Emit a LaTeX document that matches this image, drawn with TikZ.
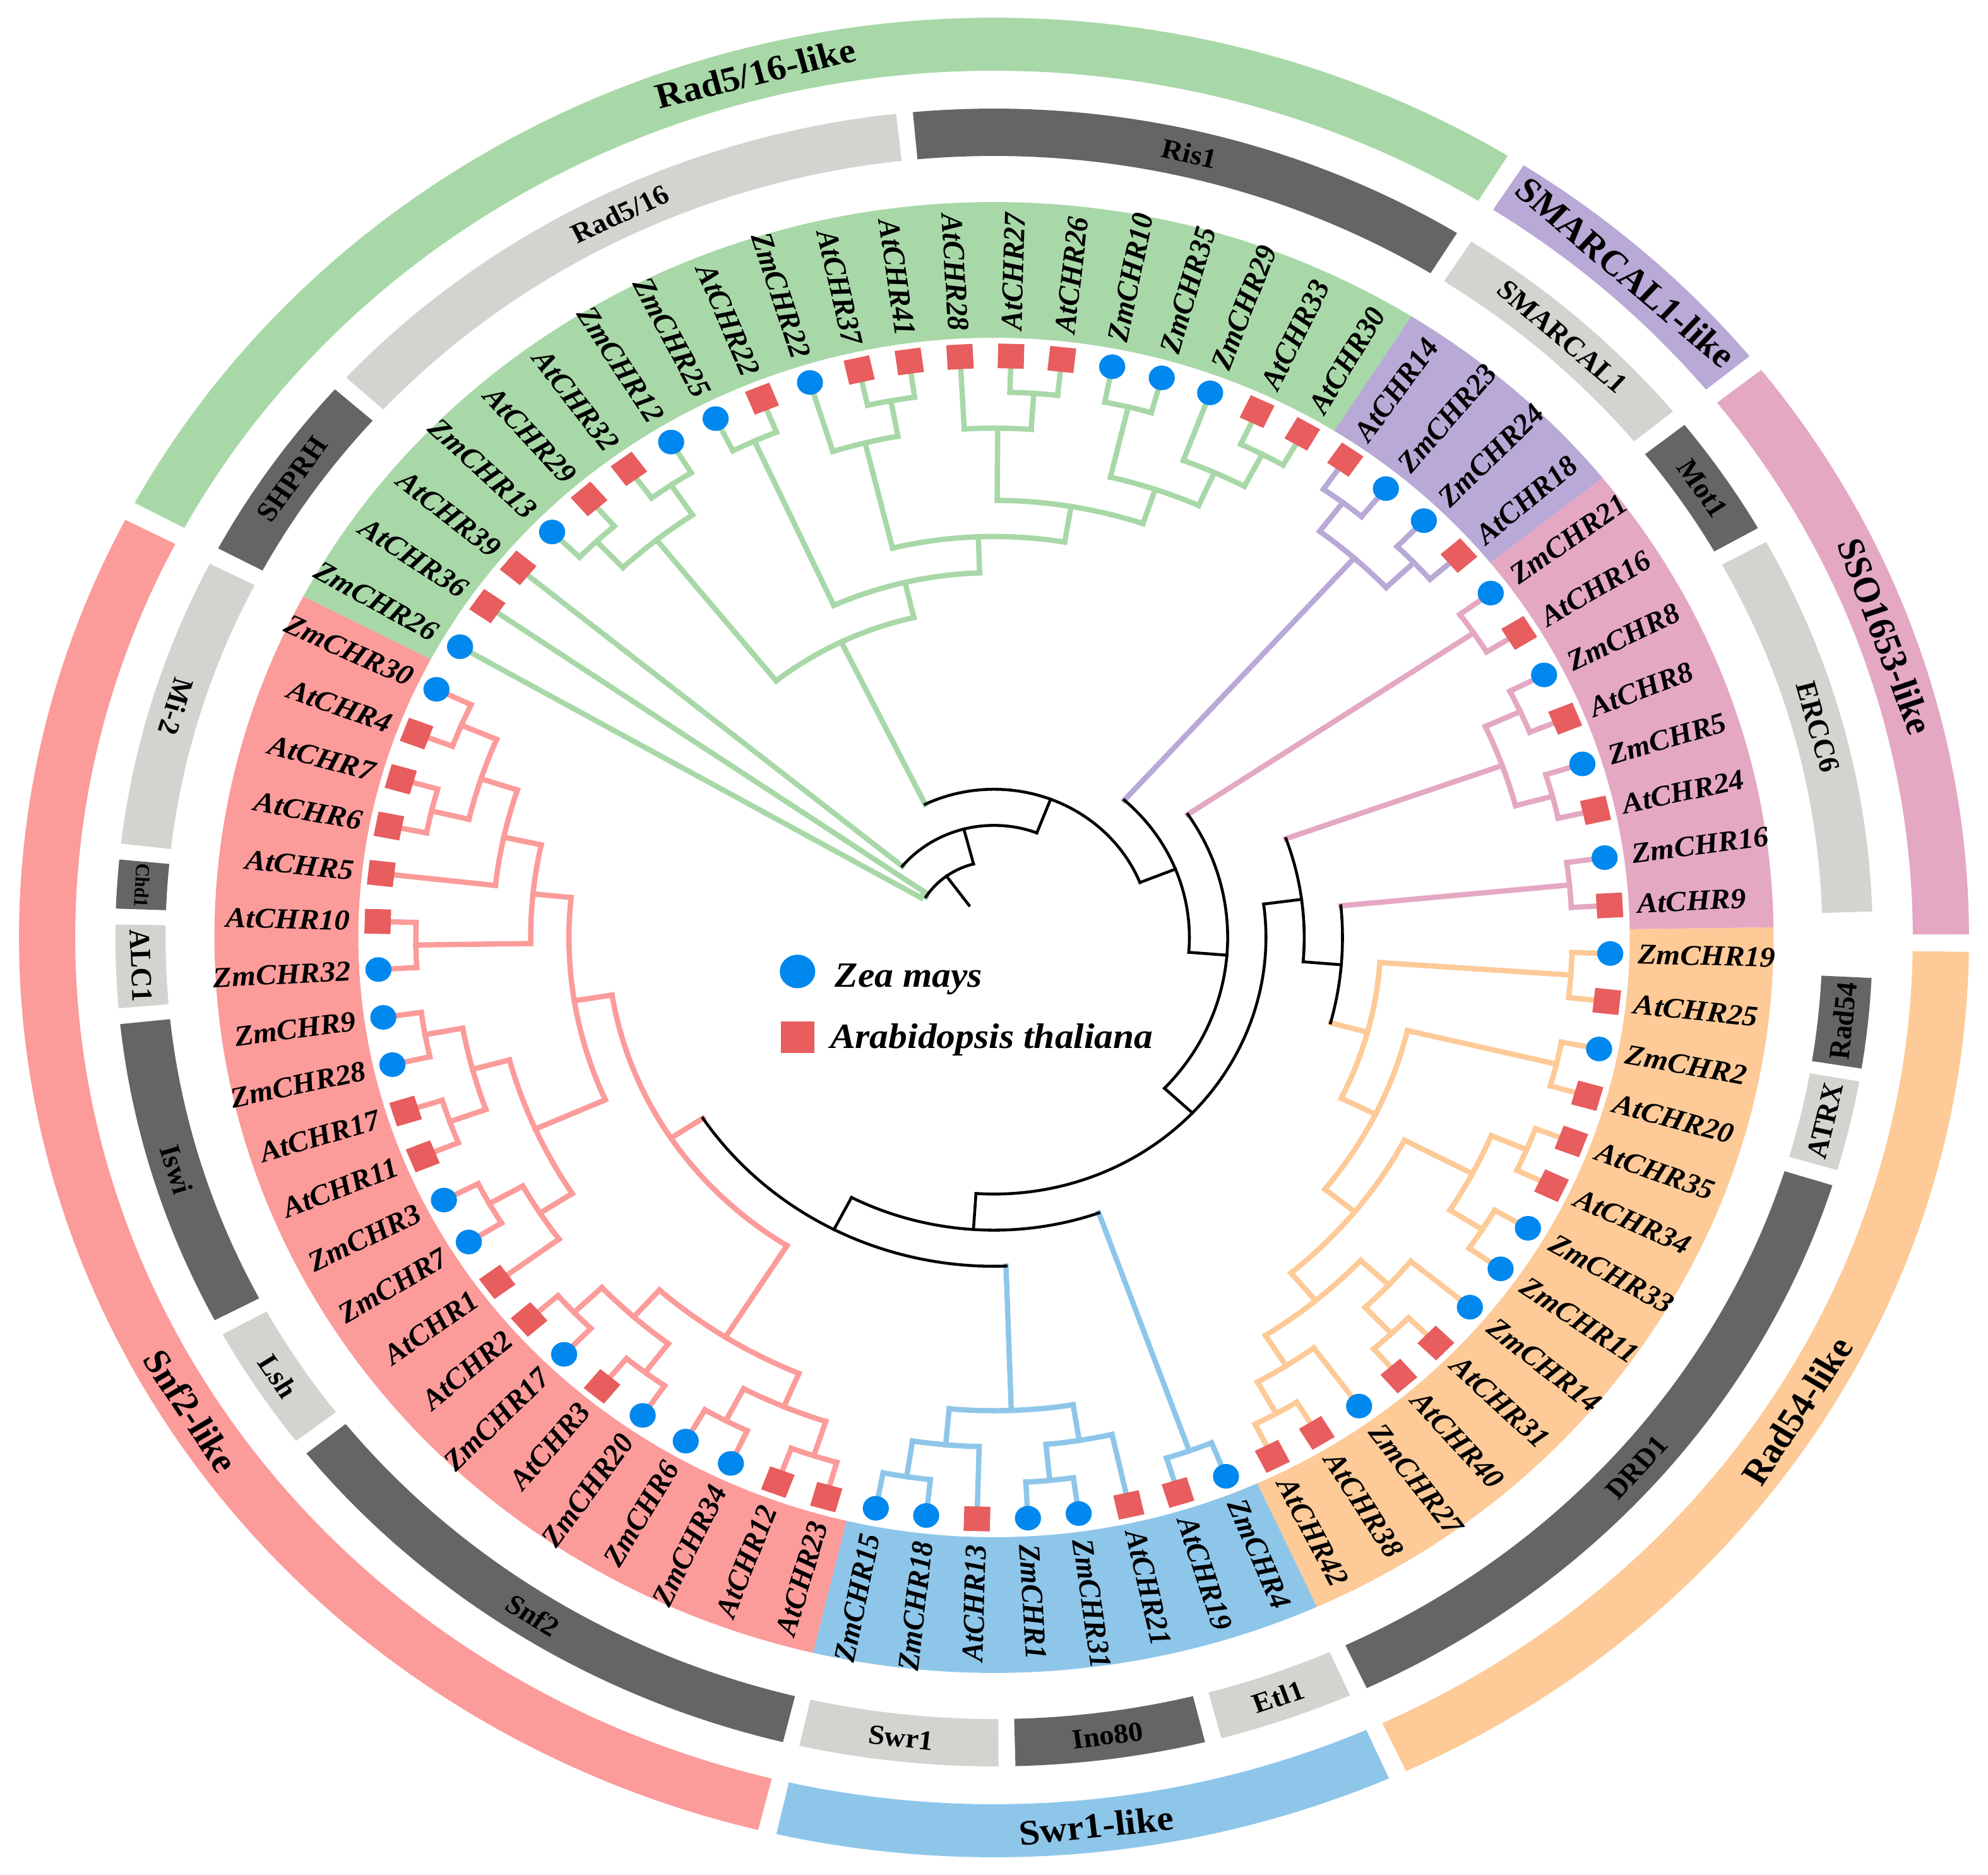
\documentclass[tikz,border=0pt]{standalone}
\usepackage{fontspec}
\setmainfont{Liberation Serif}
\definecolor{cRad}{HTML}{A8D8A8}
\definecolor{cSma}{HTML}{B8A9D7}
\definecolor{cSso}{HTML}{E4A8C3}
\definecolor{cR54}{HTML}{FDCA98}
\definecolor{cSwr}{HTML}{8EC6EA}
\definecolor{cSnf}{HTML}{FB9B9A}
\definecolor{zmblue}{HTML}{0088EE}
\definecolor{atred}{HTML}{E85D5E}
\definecolor{cLite}{HTML}{D3D3CF}
\definecolor{cDark}{HTML}{656565}
\tikzset{
  leaflab/.style={font=\fontsize{13}{15}\selectfont\bfseries\itshape, inner sep=0pt},
  zmdot/.style={circle, fill=zmblue, inner sep=0pt, minimum size=0.39cm},
  atbox/.style={rectangle, fill=atred, inner sep=0pt, minimum size=0.39cm},
  sublab/.style={font=\fontsize{12.5}{14}\selectfont\bfseries, inner sep=0pt},
  chdlab/.style={font=\fontsize{8.5}{10}\selectfont\bfseries, inner sep=0pt},
  famlab/.style={font=\fontsize{16}{18}\selectfont\bfseries, inner sep=0pt},
  legtxt/.style={font=\fontsize{16}{18}\selectfont\bfseries\itshape, inner sep=0pt}
}
\newcommand\branch[6]{%
  \pgfmathsetmacro\brA{\csname ang@#3\endcsname}%
  \pgfmathsetmacro\brB{\csname ang@#4\endcsname}%
  \pgfmathsetmacro\brM{(\brA+\brB)/2}%
  \pgfmathsetmacro\brR{9.212-0.572*#2}%
  \expandafter\xdef\csname ang@#1\endcsname{\brM}%
  \expandafter\xdef\csname col@#1\endcsname{#5}%
  \expandafter\xdef\csname wid@#1\endcsname{#6}%
  \edef\brCa{\csname col@#3\endcsname}\edef\brWa{\csname wid@#3\endcsname}%
  \edef\brCb{\csname col@#4\endcsname}\edef\brWb{\csname wid@#4\endcsname}%
  \coordinate (#1) at (\brM:\brR);
  \draw[draw=\brCa, line width=\brWa, line cap=rect] (#3) -- (\brA:\brR);
  \draw[draw=\brCb, line width=\brWb, line cap=rect] (#4) -- (\brB:\brR);
  \draw[draw=#5, line width=#6, line cap=rect] (\brA:\brR) arc[start angle=\brA, end angle=\brB, radius=\brR];
}
\newcommand\clade[5]{\branch{#1}{#2}{#3}{#4}{#5}{2.4pt}}
\newcommand\spine[4]{\branch{#1}{#2}{#3}{#4}{black}{1.3pt}}
\newcommand\band[3]{\fill[#3] (#1:9.5) arc[start angle=#1, end angle=#2, radius=9.5] -- (#2:11.65) arc[start angle=#2, end angle=#1, radius=11.65] -- cycle;}
\newcommand\ringseg[9]{%
  \fill[#5] (#1:#3) arc[start angle=#1, end angle=#2, radius=#3] -- (#2:#4) arc[start angle=#2, end angle=#1, radius=#4] -- cycle;
  \pgfmathsetmacro\rgRot{#7<0 ? #7+90 : #7-90}%
  \pgfmathsetmacro\rgMid{(#3+#4)/2}%
  \node[#9, rotate=\rgRot] (#6) at (#7:\rgMid) {#8};}
\newcommand\subring[6]{\ringseg{#1}{#2}{12.38}{13.13}{#3}{#4}{#5}{#6}{sublab}}
\newcommand\famring[6]{\ringseg{#1}{#2}{13.73}{14.57}{#3}{#4}{#5}{#6}{famlab}}
\def\leaflist{ZmCHR26/z,AtCHR36/a,AtCHR39/a,ZmCHR13/z,AtCHR29/a,AtCHR32/a,ZmCHR12/z,ZmCHR25/z,AtCHR22/a,ZmCHR22/z,AtCHR37/a,AtCHR41/a,AtCHR28/a,AtCHR27/a,AtCHR26/a,ZmCHR10/z,ZmCHR35/z,ZmCHR29/z,AtCHR33/a,AtCHR30/a,AtCHR14/a,ZmCHR23/z,ZmCHR24/z,AtCHR18/a,ZmCHR21/z,AtCHR16/a,ZmCHR8/z,AtCHR8/a,ZmCHR5/z,AtCHR24/a,ZmCHR16/z,AtCHR9/a,ZmCHR19/z,AtCHR25/a,ZmCHR2/z,AtCHR20/a,AtCHR35/a,AtCHR34/a,ZmCHR33/z,ZmCHR11/z,ZmCHR14/z,AtCHR31/a,AtCHR40/a,ZmCHR27/z,AtCHR38/a,AtCHR42/a,ZmCHR4/z,AtCHR19/a,AtCHR21/a,ZmCHR31/z,ZmCHR1/z,AtCHR13/a,ZmCHR18/z,ZmCHR15/z,AtCHR23/a,AtCHR12/a,ZmCHR34/z,ZmCHR6/z,ZmCHR20/z,AtCHR3/a,ZmCHR17/z,AtCHR2/a,AtCHR1/a,ZmCHR7/z,ZmCHR3/z,AtCHR11/a,AtCHR17/a,ZmCHR28/z,ZmCHR9/z,ZmCHR32/z,AtCHR10/a,AtCHR5/a,AtCHR6/a,AtCHR7/a,AtCHR4/a,ZmCHR30/z}

\begin{document}
\begin{tikzpicture}[xscale=1.06, every node/.append style={transform shape}]
\useasboundingbox (-14.854,-14.85) rectangle (14.854,14.85);

\band{152.37}{57.63}{cRad}
\band{57.63}{38.68}{cSma}
\band{38.68}{0.79}{cSso}
\band{0.79}{-65.53}{cR54}
\band{-65.53}{-103.42}{cSwr}
\band{-103.42}{-207.63}{cSnf}

\subring{152.0}{138.6}{cDark}{shprh}{145.3}{SHPRH}
\subring{137.5}{96.4}{cLite}{rad516}{116.0}{Rad5/16}
\subring{95.3}{58.2}{cDark}{ris1}{76.75}{Ris1}
\subring{57.1}{39.4}{cLite}{smarcal}{48.25}{SMARCAL1}
\subring{38.2}{29.6}{cDark}{mot1}{33.9}{Mot1}
\subring{28.5}{1.8}{cLite}{ercc6}{15.15}{ERCC6}
\subring{-2.8}{-9.1}{cDark}{rad54}{-5.95}{Rad54}
\subring{-10.0}{-16.3}{cLite}{atrx}{-13.15}{ATRX}
\subring{-17.4}{-64.9}{cDark}{drd1}{-41.15}{DRD1}
\subring{-66.1}{-75.0}{cLite}{etl1}{-70.55}{Etl1}
\subring{-76.1}{-88.6}{cDark}{ino80}{-82.35}{Ino80}
\subring{-89.7}{-102.8}{cLite}{swr1}{-96.25}{Swr1}
\subring{-103.9}{-141.5}{cDark}{snf2}{-122.7}{Snf2}
\subring{-142.6}{-151.4}{cLite}{lsh}{-147.0}{Lsh}
\subring{-152.5}{-174.0}{cDark}{iswi}{-163.25}{Iswi}
\subring{-175.1}{-180.9}{cLite}{alc1}{-178.0}{ALC1}
\ringseg{-182.0}{-185.4}{12.38}{13.13}{cDark}{chd1}{-183.7}{Chd1}{chdlab}
\subring{-186.5}{-206.8}{cLite}{mi2}{-196.65}{Mi-2}

\famring{151.8}{58.2}{cRad}{fRad}{104.6}{Rad5/16-like}
\famring{57.1}{39.2}{cSma}{fSma}{48.15}{SMARCAL1-like}
\famring{38.1}{0.2}{cSso}{fSso}{19.7}{SSO1653-like}
\famring{-0.9}{-65.0}{cR54}{fR54}{-32.0}{Rad54-like}
\famring{-66.1}{-102.9}{cSwr}{fSwr}{-83.8}{Swr1-like}
\famring{-104.0}{-207.0}{cSnf}{fSnf}{-148.0}{Snf2-like}

\foreach \nm/\spc [count=\i from 0] in \leaflist {
  \pgfmathsetmacro\lfa{150-\i*4.7368421}
  \ifnum\i<20 \def\lc{cRad}\else\ifnum\i<24 \def\lc{cSma}\else\ifnum\i<32 \def\lc{cSso}\else\ifnum\i<46 \def\lc{cR54}\else\ifnum\i<54 \def\lc{cSwr}\else\def\lc{cSnf}\fi\fi\fi\fi\fi
  \expandafter\xdef\csname ang@\nm\endcsname{\lfa}
  \expandafter\xdef\csname col@\nm\endcsname{\lc}
  \expandafter\xdef\csname wid@\nm\endcsname{2.4pt}
  \coordinate (\nm) at (\lfa:9.212);
}

\clade{P0}{13.9}{ZmCHR26}{AtCHR36}{cRad}
\clade{A1}{1}{ZmCHR13}{AtCHR29}{cRad}
\clade{B1}{1}{AtCHR32}{ZmCHR12}{cRad}
\clade{A2}{2}{A1}{B1}{cRad}
\clade{C1}{1}{ZmCHR25}{AtCHR22}{cRad}
\clade{D2}{1}{AtCHR37}{AtCHR41}{cRad}
\clade{D1}{2}{ZmCHR22}{D2}{cRad}
\clade{E1}{1}{AtCHR27}{AtCHR26}{cRad}
\clade{E2}{2}{AtCHR28}{E1}{cRad}
\clade{F2}{1}{ZmCHR10}{ZmCHR35}{cRad}
\clade{G2}{1}{AtCHR33}{AtCHR30}{cRad}
\clade{G1}{2}{ZmCHR29}{G2}{cRad}
\clade{F1}{3}{F2}{G1}{cRad}
\clade{E3}{4}{E2}{F1}{cRad}
\clade{A5}{5}{D1}{E3}{cRad}
\clade{A4}{6}{C1}{A5}{cRad}
\clade{A3}{7}{A2}{A4}{cRad}

\clade{H1}{1}{AtCHR14}{ZmCHR23}{cSma}
\clade{H2}{1}{ZmCHR24}{AtCHR18}{cSma}
\clade{H3}{2}{H1}{H2}{cSma}

\clade{K1}{1}{ZmCHR21}{AtCHR16}{cSso}
\clade{K2}{1}{ZmCHR8}{AtCHR8}{cSso}
\clade{K4}{1}{ZmCHR5}{AtCHR24}{cSso}
\clade{K3}{2}{K2}{K4}{cSso}
\clade{K6}{1}{ZmCHR16}{AtCHR9}{cSso}

\clade{O1}{1}{ZmCHR19}{AtCHR25}{cR54}
\clade{O4}{1}{ZmCHR2}{AtCHR20}{cR54}
\clade{O7}{1}{AtCHR35}{AtCHR34}{cR54}
\clade{O8}{1}{ZmCHR33}{ZmCHR11}{cR54}
\clade{O6}{2}{O7}{O8}{cR54}
\clade{O11}{1}{AtCHR31}{AtCHR40}{cR54}
\clade{O10}{2}{ZmCHR14}{O11}{cR54}
\clade{O13}{1}{AtCHR38}{AtCHR42}{cR54}
\clade{O12}{2}{ZmCHR27}{O13}{cR54}
\clade{O9}{3}{O10}{O12}{cR54}
\clade{O5}{4}{O6}{O9}{cR54}
\clade{O3}{5}{O4}{O5}{cR54}
\clade{O2}{6}{O1}{O3}{cR54}

\clade{BL1}{1}{ZmCHR4}{AtCHR19}{cSwr}
\clade{BL3}{1}{ZmCHR31}{ZmCHR1}{cSwr}
\clade{BL4}{2}{AtCHR21}{BL3}{cSwr}
\clade{BL7}{1}{ZmCHR18}{ZmCHR15}{cSwr}
\clade{BL6}{2}{AtCHR13}{BL7}{cSwr}
\clade{BL5}{3}{BL4}{BL6}{cSwr}

\clade{RP1}{1}{AtCHR23}{AtCHR12}{cSnf}
\clade{RP2}{1}{ZmCHR34}{ZmCHR6}{cSnf}
\clade{RP3}{2}{RP1}{RP2}{cSnf}
\clade{RP5}{1}{ZmCHR20}{AtCHR3}{cSnf}
\clade{RP4}{1}{ZmCHR17}{AtCHR2}{cSnf}
\clade{RC}{2}{RP5}{RP4}{cSnf}
\clade{RB}{3}{RP3}{RC}{cSnf}
\clade{RP8}{1}{ZmCHR7}{ZmCHR3}{cSnf}
\clade{RE}{2}{AtCHR1}{RP8}{cSnf}
\clade{RP7}{1}{AtCHR11}{AtCHR17}{cSnf}
\clade{RP6}{1}{ZmCHR28}{ZmCHR9}{cSnf}
\clade{RD}{2}{RP7}{RP6}{cSnf}
\clade{RF}{3}{RE}{RD}{cSnf}
\clade{RP11}{1}{ZmCHR32}{AtCHR10}{cSnf}
\clade{RP10}{1}{AtCHR6}{AtCHR7}{cSnf}
\clade{RP9}{1}{AtCHR4}{ZmCHR30}{cSnf}
\clade{RG}{2}{RP10}{RP9}{cSnf}
\clade{RH}{3}{AtCHR5}{RG}{cSnf}
\clade{RI}{4}{RP11}{RH}{cSnf}
\clade{RA}{5}{RF}{RI}{cSnf}
\clade{RR}{6}{RB}{RA}{cSnf}

\spine{K7}{7}{K6}{O2}
\spine{K5}{8}{K3}{K7}
\spine{S1}{7}{BL5}{RR}
\spine{S2}{8}{BL1}{S1}
\spine{N6}{9}{K5}{S2}
\spine{N5}{10}{K1}{N6}
\spine{N4}{11}{H3}{N5}
\spine{N3}{12}{A3}{N4}
\spine{N2}{13}{AtCHR39}{N3}
\spine{R}{14}{P0}{N2}
\pgfmathsetmacro\rootA{\csname ang@R\endcsname}
\coordinate (rootend) at (\rootA:0.632);
\draw[black, line width=1.3pt, line cap=rect] (R) -- (rootend);

\foreach \nm/\spc [count=\i from 0] in \leaflist {
  \pgfmathsetmacro\lfa{150-\i*4.7368421}
  \ifdim\lfa pt>90pt \def\side{1}\else\ifdim\lfa pt<-90pt \def\side{1}\else\def\side{0}\fi\fi
  \if1\side
    \node[leaflab, anchor=east, rotate=\lfa+180] (lab-\nm) at (\lfa:9.62) {\nm};
  \else
    \node[leaflab, anchor=west, rotate=\lfa] (lab-\nm) at (\lfa:9.62) {\nm};
  \fi
  \if z\spc
    \node[zmdot] (mk-\nm) at (\nm) {};
  \else
    \node[atbox, rotate=\lfa] (mk-\nm) at (\nm) {};
  \fi
}

\node[zmdot, minimum size=0.53cm] (lgz) at (-2.936,-0.538) {};
\node[legtxt, anchor=base west] (lgzt) at (-2.383,-0.79) {Zea mays};
\node[atbox, minimum size=0.5cm] (lga) at (-2.936,-1.584) {};
\node[legtxt, anchor=base west] (lgat) at (-2.455,-1.76) {Arabidopsis thaliana};
\end{tikzpicture}
\end{document}
